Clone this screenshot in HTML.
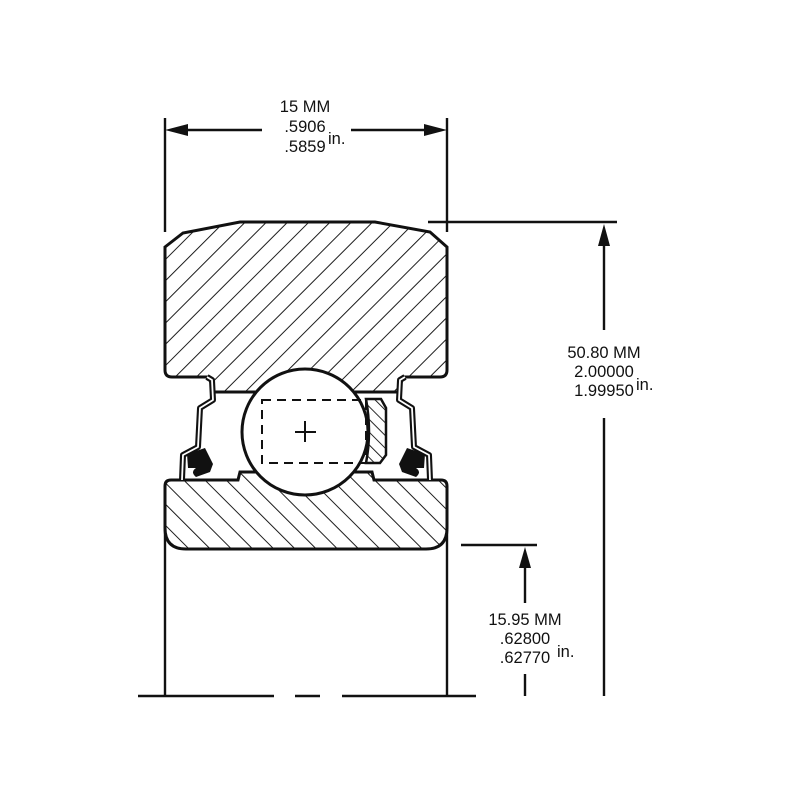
<!DOCTYPE html>
<html><head><style>
html,body{margin:0;padding:0;background:#fff;}
svg{display:block;}
text{font-family:"Liberation Sans",Arial,sans-serif;fill:#111;}
</style></head><body>
<svg width="800" height="800" viewBox="0 0 800 800" xmlns="http://www.w3.org/2000/svg">
<defs>
<pattern id="h1" patternUnits="userSpaceOnUse" width="15" height="15" patternTransform="rotate(45)">
<line x1="0" y1="0" x2="0" y2="15" stroke="#111" stroke-width="1.9"/>
</pattern>
<pattern id="h2" patternUnits="userSpaceOnUse" width="15" height="15" patternTransform="rotate(-45)">
<line x1="0" y1="0" x2="0" y2="15" stroke="#111" stroke-width="1.9"/>
</pattern>
<pattern id="h3" patternUnits="userSpaceOnUse" width="9" height="9" patternTransform="rotate(-45)">
<line x1="0" y1="0" x2="0" y2="9" stroke="#111" stroke-width="1.8"/>
</pattern>
</defs>
<g fill="none" stroke="#111" stroke-width="2.4">
<line x1="165" y1="118" x2="165" y2="232"/>
<line x1="447" y1="118" x2="447" y2="232"/>
<line x1="180" y1="130" x2="262" y2="130"/>
<line x1="351" y1="130" x2="432" y2="130"/>
<line x1="428" y1="222" x2="617" y2="222"/>
<line x1="604" y1="238" x2="604" y2="330"/>
<line x1="604" y1="418" x2="604" y2="696"/>
<line x1="461" y1="545" x2="537" y2="545"/>
<line x1="525" y1="560" x2="525" y2="603"/>
<line x1="525" y1="674" x2="525" y2="696"/>
<line x1="138" y1="696" x2="274" y2="696"/>
<line x1="295" y1="696" x2="320" y2="696"/>
<line x1="342" y1="696" x2="476" y2="696"/>
<line x1="165" y1="530" x2="165" y2="696"/>
<line x1="447" y1="530" x2="447" y2="696"/>
</g>
<g fill="#111">
<polygon points="165,130 188,124 188,136"/>
<polygon points="447,130 424,124 424,136"/>
<polygon points="604,224 598,246 610,246"/>
<polygon points="525,547 519,568 531,568"/>
</g>
<path d="M165,247 L183,233 L240,222 L375,222 L430,232 L447,247 L447,370 Q447,377 440,377 L403,377 L398,392 L214,392 L209,377 L172,377 Q165,377 165,370 Z" fill="url(#h1)" stroke="#111" stroke-width="3"/>
<path d="M165,486 Q165,480 171,480 L238,480 L240,472 L372,472 L374,480 L441,480 Q447,480 447,486 L447,528 Q447,549 426,549 L186,549 Q165,549 165,528 Z" fill="url(#h2)" stroke="#111" stroke-width="3"/>
<circle cx="305" cy="432" r="63" fill="#fff" stroke="#111" stroke-width="3"/>
<path d="M366,399 L381,399 L386,408 L386,455 L380,463 L366,463 Q372,432 366,399 Z" fill="url(#h3)" stroke="#111" stroke-width="2.5"/>
<rect x="262" y="400" width="104" height="63" fill="none" stroke="#111" stroke-width="2" stroke-dasharray="9,6"/>
<line x1="295" y1="432" x2="316" y2="432" stroke="#111" stroke-width="2"/>
<line x1="305" y1="421" x2="305" y2="442" stroke="#111" stroke-width="2"/>
<g id="seal">
<polyline points="207,377 212,380 213,400 200,408 198,447 183,455 182,480" fill="none" stroke="#111" stroke-width="6" stroke-linejoin="round"/>
<polyline points="207,377 212,380 213,400 200,408 198,447 183,455 182,480" fill="none" stroke="#fff" stroke-width="1.8" stroke-linejoin="round"/>
<path d="M187,454 L205,448 L213,464 L210,472 L196,477 Q190,472 196,468 L188,468 Z" fill="#111"/>
</g>
<use href="#seal" transform="translate(612,0) scale(-1,1)"/>
<text x="305" y="112" font-size="16.5" text-anchor="middle">15 MM</text>
<text x="305" y="132" font-size="16.5" text-anchor="middle">.5906</text>
<text x="305" y="152" font-size="16.5" text-anchor="middle">.5859</text>
<text x="328" y="144" font-size="16.5">in.</text>
<text x="604" y="358" font-size="16.5" text-anchor="middle">50.80 MM</text>
<text x="604" y="377" font-size="16.5" text-anchor="middle">2.00000</text>
<text x="604" y="396" font-size="16.5" text-anchor="middle">1.99950</text>
<text x="636" y="390" font-size="16.5">in.</text>
<text x="525" y="625" font-size="16.5" text-anchor="middle">15.95 MM</text>
<text x="525" y="644" font-size="16.5" text-anchor="middle">.62800</text>
<text x="525" y="663" font-size="16.5" text-anchor="middle">.62770</text>
<text x="557" y="657" font-size="16.5">in.</text>
</svg>
</body></html>
